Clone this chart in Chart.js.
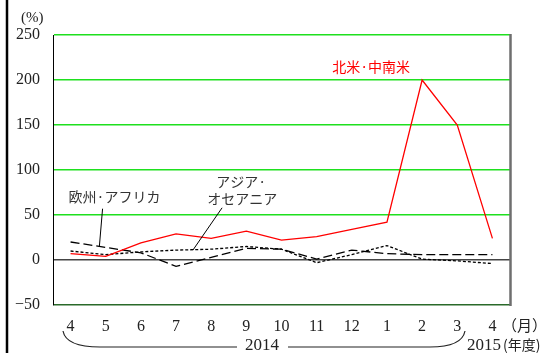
<!DOCTYPE html>
<html><head><meta charset="utf-8">
<script src="https://cdn.jsdelivr.net/npm/chart.js@4/dist/chart.umd.min.js"></script>
<style>html,body{margin:0;padding:0;background:#fff;}canvas{display:block;}</style>
</head><body>
<canvas id="c" width="549" height="353"></canvas>
<script>
const months = ['4','5','6','7','8','9','10','11','12','1','2','3','4'];
const northSouthAmerica = [7, 4, 19, 29, 24, 32, 22, 26, 34, 42, 200, 150, 24];
const europeAfrica = [20, 14, 8, -7, 3, 13, 12, 1, 11, 7, 6, 6, 6];
const asiaOceania = [10, 6, 9, 11, 12, 15, 12, -3, 6, 16, 1, -1, -4];
const yTicks = [-50, 0, 50, 100, 150, 200, 250];

const serif = '"Liberation Serif", "DejaVu Serif", serif';
const jp = '"Noto Sans CJK JP", sans-serif';

const deco = {
  id: 'deco',
  afterDraw(chart) {
    const ctx = chart.ctx, xs = chart.scales.x, ys = chart.scales.y, a = chart.chartArea;
    const X = v => xs.getPixelForValue(v), Y = v => ys.getPixelForValue(v);
    ctx.save();
    // right border
    ctx.strokeStyle = '#6e6e6e'; ctx.lineWidth = 2.5;
    ctx.beginPath(); ctx.moveTo(a.right + 0.5, a.top - 1); ctx.lineTo(a.right + 0.5, a.bottom + 1); ctx.stroke();
    // left thick bar
    ctx.strokeStyle = '#000'; ctx.lineWidth = 2.5;
    ctx.beginPath(); ctx.moveTo(7, 0); ctx.lineTo(7, 353); ctx.stroke();
    // pointer lines
    ctx.strokeStyle = '#000'; ctx.lineWidth = 1;
    ctx.beginPath(); ctx.moveTo(X(0.91), Y(57)); ctx.lineTo(X(0.82), Y(15.5)); ctx.stroke();
    ctx.beginPath(); ctx.moveTo(X(4.31), Y(58)); ctx.lineTo(X(3.48), Y(11)); ctx.stroke();
    // annotation labels
    ctx.textAlign = 'center'; ctx.textBaseline = 'middle';
    ctx.font = '14px ' + jp;
    ctx.fillStyle = '#ff0000';
    ctx.fillText('北米·中南米', X(8.55), Y(215));
    ctx.fillStyle = '#333';
    ctx.fillText('欧州·アフリカ', X(1.25), Y(70));
    ctx.fillText('アジア·', X(4.85), Y(87));
    ctx.fillText('オセアニア', X(4.88), Y(68));
    // unit labels
    ctx.font = '15px ' + serif;
    ctx.fillStyle = '#222';
    ctx.textAlign = 'left';
    ctx.fillText('(%)', 21, 18);
    ctx.font = '15px ' + jp;
    ctx.fillText('（月）', 502, 325);
    ctx.font = '17px ' + serif;
    ctx.fillText('2015', 467, 346);
    ctx.font = '14px ' + jp;
    ctx.fillText('(年度)', 503, 345);
    // brace
    ctx.textAlign = 'center';
    ctx.font = '17px ' + serif;
    ctx.fillText('2014', 262, 346);
    ctx.strokeStyle = '#222'; ctx.lineWidth = 1.2;
    ctx.beginPath();
    ctx.moveTo(63, 331);
    ctx.quadraticCurveTo(66, 347, 100, 347);
    ctx.lineTo(237, 347);
    ctx.stroke();
    ctx.beginPath();
    ctx.moveTo(288, 347);
    ctx.lineTo(430, 347);
    ctx.quadraticCurveTo(462, 347, 465, 331);
    ctx.stroke();
    ctx.restore();
  }
};

new Chart(document.getElementById('c'), {
  type: 'line',
  data: {
    labels: months,
    datasets: [
      { label: '北米·中南米', data: northSouthAmerica, borderColor: '#ff0000', borderWidth: 1.3, pointRadius: 0, tension: 0, fill: false },
      { label: '欧州·アフリカ', data: europeAfrica, borderColor: '#000', borderWidth: 1.3, borderDash: [9, 4], pointRadius: 0, tension: 0, fill: false },
      { label: 'アジア·オセアニア', data: asiaOceania, borderColor: '#000', borderWidth: 1.3, borderDash: [3, 2], pointRadius: 0, tension: 0, fill: false }
    ]
  },
  options: {
    responsive: false,
    animation: false,
    layout: { padding: { left: 0, top: 35, right: 39, bottom: 0 } },
    plugins: { legend: { display: false }, tooltip: { enabled: false } },
    scales: {
      x: {
        offset: true,
        grid: { display: false, drawTicks: false },
        border: { display: false },
        ticks: { padding: 12, color: '#222', font: { family: serif, size: 16 }, maxRotation: 0, autoSkip: false },
        afterFit(s) { s.height = 48; }
      },
      y: {
        min: -50, max: 250,
        afterBuildTicks(s) { s.ticks = yTicks.map(v => ({ value: v })); },
        grid: {
          drawTicks: false,
          lineWidth: 1.5,
          color: c => c.tick.value === 0 ? '#444' : (c.tick.value === -50 ? '#2a6a2a' : '#1ee01e')
        },
        border: { display: true, color: '#000', width: 1 },
        ticks: { padding: 13, color: '#222', font: { family: serif, size: 16 },
          callback: v => (v < 0 ? '−' + Math.abs(v) : String(v)) },
        afterFit(s) { s.width = 53; }
      }
    }
  },
  plugins: [deco]
});
</script>
</body></html>
